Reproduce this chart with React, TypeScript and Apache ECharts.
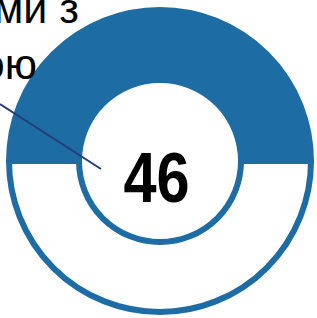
import React, { useEffect, useRef } from "react";
import * as echarts from "echarts";

const sliceNames = ["filled", "empty"];
const sliceValues = [50, 50];
const centerValue = "46";
const labelLines = ["ми з", "ою"];

const BLUE = "#1d6da4";

export default function App() {
  const ref = useRef<HTMLDivElement>(null);
  useEffect(() => {
    document.body.style.margin = "0";
    const chart = echarts.init(ref.current!, undefined, { renderer: "svg" });
    const fills = [BLUE, "#ffffff"];
    const labelStyle = {
      fontFamily: "Liberation Sans",
      fontSize: 43,
      lineHeight: 22,
      fill: "#000",
      align: "right",
      verticalAlign: "middle",
    };
    chart.setOption({
      animation: false,
      backgroundColor: "#ffffff",
      series: [
        {
          type: "pie",
          silent: true,
          center: [160, 161],
          radius: [81, 151],
          startAngle: 180,
          clockwise: true,
          label: { show: false },
          labelLine: { show: false },
          emphasis: { disabled: true },
          data: sliceNames.map((n, i) => ({
            name: n,
            value: sliceValues[i],
            itemStyle: { color: fills[i], borderColor: BLUE, borderWidth: 6 },
          })),
        },
      ],
      graphic: [
        {
          type: "line",
          silent: true,
          shape: { x1: 0, y1: 104, x2: 101, y2: 169 },
          style: { stroke: "#233f78", lineWidth: 2 },
          z: 10,
        },
        {
          type: "text",
          x: 79,
          y: 8,
          style: { ...labelStyle, text: labelLines[0] },
          z: 10,
        },
        {
          type: "text",
          x: 37,
          y: 64,
          style: { ...labelStyle, text: labelLines[1] },
          z: 10,
        },
        {
          type: "text",
          x: 156.5,
          y: 178,
          scaleX: 0.85,
          style: {
            text: centerValue,
            fontFamily: "Liberation Sans",
            fontWeight: "bold",
            fontSize: 70,
            fill: "#000",
            align: "center",
            verticalAlign: "middle",
          },
          z: 10,
        },
      ],
    });
    return () => chart.dispose();
  }, []);
  return <div ref={ref} style={{ width: 317, height: 318 }} />;
}
